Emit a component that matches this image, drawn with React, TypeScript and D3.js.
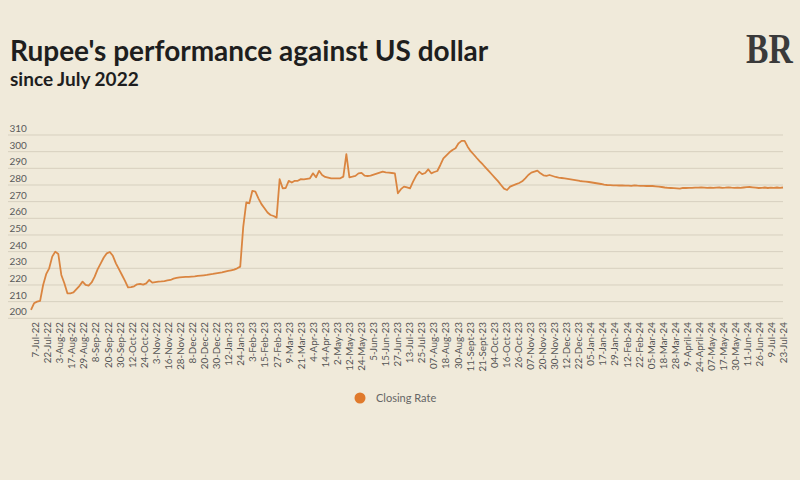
import React from 'react';
import * as d3 from 'd3';

const tickLabels = [
  '7-Jul-22', '22-Jul-22', '3-Aug-22', '17-Aug-22', '29-Aug-22', '8-Sep-22', '20-Sep-22', '30-Sep-22',
  '12-Oct-22', '24-Oct-22', '3-Nov-22', '16-Nov-22', '28-Nov-22', '8-Dec-22', '20-Dec-22', '30-Dec-22',
  '12-Jan-23', '24-Jan-23', '3-Feb-23', '15-Feb-23', '27-Feb-23', '9-Mar-23', '21-Mar-23', '4-Apr-23',
  '14-Apr-23', '2-May-23', '12-May-23', '24-May-23', '5-Jun-23', '15-Jun-23', '27-Jun-23', '13-Jul-23',
  '25-Jul-23', '07-Aug-23', '18-Aug-23', '30-Aug-23', '11-Sept-23', '21-Sept-23', '04-Oct-23', '16-Oct-23',
  '26-Oct-23', '07-Nov-23', '20-Nov-23', '30-Nov-23', '12-Dec-23', '22-Dec-23', '05-Jan-24', '17-Jan-24',
  '29-Jan-24', '12-Feb-24', '22-Feb-24', '05-Mar-24', '18-Mar-24', '28-Mar-24', '9-April-24', '24-April-24',
  '07-May-24', '17-May-24', '30-May-24', '11-Jun-24', '26-Jun-24', '9-Jul-24', '23-Jul-24',
];

const yTicks = [200, 210, 220, 230, 240, 250, 260, 270, 280, 290, 300, 310];

const closingRate = [
  205, 209, 210, 210.5, 220, 226.5, 230, 237, 240, 238.6,
  226, 221, 215, 215, 215.5, 217.5, 219.5, 222, 220, 219.6,
  221.5, 225, 229.5, 233, 236.5, 239, 239.8, 237.5, 233, 229.5,
  226, 222.5, 218.5, 218.7, 219.2, 220.4, 220.6, 220.2, 221, 223,
  221.4, 221.7, 222, 222.1, 222.3, 222.7, 223, 223.8, 224.2, 224.6,
  224.7, 224.8, 224.9, 225, 225.1, 225.4, 225.6, 225.8, 226, 226.4,
  226.6, 227, 227.3, 227.6, 228, 228.4, 228.8, 229.2, 230, 231,
  255, 269.5, 269, 276.5, 276, 272, 268.5, 266, 263.5, 262,
  261.4, 260.4, 283.5, 278, 278.2, 282.5, 281.5, 282.5, 282.5, 283.5,
  283.4, 283.7, 284, 287, 284.6, 288.5, 286, 284.8, 284.4, 284,
  284, 284, 284, 285, 298.5, 284.6, 285, 285.5, 287, 287.3,
  285.6, 285.4, 285.6, 286.2, 286.8, 287.4, 288, 287.6, 287.4, 287.2,
  287, 275, 277.5, 279, 278.5, 278, 282, 285.5, 288, 286.5,
  287.2, 289.4, 287, 287.8, 288.4, 292, 296, 297.8, 299.6, 301,
  302, 305, 306.5, 306.5, 303, 300.3, 298.3, 296.2, 294.2, 292.3,
  290.3, 288.3, 286.3, 284.3, 282.3, 280, 277.8, 277, 279, 279.8,
  280.5, 281.2, 282.2, 284, 286, 287.4, 288, 288.6, 287, 285.8,
  285.5, 286, 285.4, 284.8, 284.4, 284.2, 284, 283.7, 283.4, 283.1,
  282.8, 282.4, 282.2, 282, 281.8, 281.5, 281.2, 280.9, 280.6, 280.2,
  280, 279.9, 279.8, 279.8, 279.7, 279.7, 279.6, 279.6, 279.5, 279.8,
  279.6, 279.5, 279.5, 279.4, 279.4, 279.4, 279.2, 279, 278.8, 278.5,
  278.3, 278.2, 278.1, 278, 277.8, 278.2, 278.2, 278.3, 278.3, 278.4,
  278.4, 278.5, 278.4, 278.3, 278.4, 278.3, 278.4, 278.5, 278.3, 278.4,
  278.6, 278.4, 278.3, 278.4, 278.3, 278.5, 278.7, 278.8, 278.6, 278.4,
  278.2, 278.3, 278.5, 278.2, 278.4, 278.3, 278.5, 278.3, 278.5,
];

const seriesName = 'Closing Rate';
const title = "Rupee's performance against US dollar";
const subtitle = 'since July 2022';

export default function App() {
  const W = 800;
  const H = 480;
  const bg = '#F0EADA';
  const lineColor = '#DA8540';
  const font = 'Lato, "Noto Sans", sans-serif';

  const y = d3.scaleLinear().domain([200, 310]).range([318.3, 135]);
  const xLine = d3.scaleLinear().domain([0, closingRate.length - 1]).range([31, 783]);
  const xLabel = d3.scalePoint<string>().domain(tickLabels).range([35.7, 784]);

  const linePath = d3
    .line<number>()
    .x((_, i) => xLine(i))
    .y((d) => y(d))(closingRate) as string;

  return (
    <svg
      width={W}
      height={H}
      viewBox={`0 0 ${W} ${H}`}
      style={{ position: 'absolute', left: 0, top: 0, display: 'block' }}
      fontFamily={font}
    >
      <rect x={0} y={0} width={W} height={H} fill={bg} />

      <text x={10} y={61} fontSize={28} fontWeight={700} fill="#1e1e1e">
        {title}
      </text>
      <text x={10} y={86} fontSize={19} fontWeight={700} fill="#1e1e1e">
        {subtitle}
      </text>

      <text
        transform="translate(746,63) scale(0.8,1)"
        fontFamily='"Liberation Serif", "DejaVu Serif", serif'
        fontWeight={700}
        fontSize={42}
        fill="#3a3a3a"
      >
        BR
      </text>

      {yTicks.map((t) => (
        <g key={t}>
          <line x1={8} x2={783} y1={y(t)} y2={y(t)} stroke="#D7D0BF" strokeWidth={1} />
          <text x={9.5} y={y(t) - 3} fontSize={10} fill="#5a5a5a">
            {t}
          </text>
        </g>
      ))}

      {tickLabels.map((l) => (
        <text
          key={l}
          transform={`translate(${xLabel(l)},322) rotate(-90)`}
          textAnchor="end"
          dy="0.35em"
          fontSize={9.8}
          fill="#555"
        >
          {l}
        </text>
      ))}

      <path d={linePath} fill="none" stroke={lineColor} strokeWidth={1.8} strokeLinejoin="round" />

      <circle cx={360} cy={398} r={5.5} fill="#E07A2C" />
      <text x={376} y={401.8} fontSize={11} fill="#666">
        {seriesName}
      </text>
    </svg>
  );
}
